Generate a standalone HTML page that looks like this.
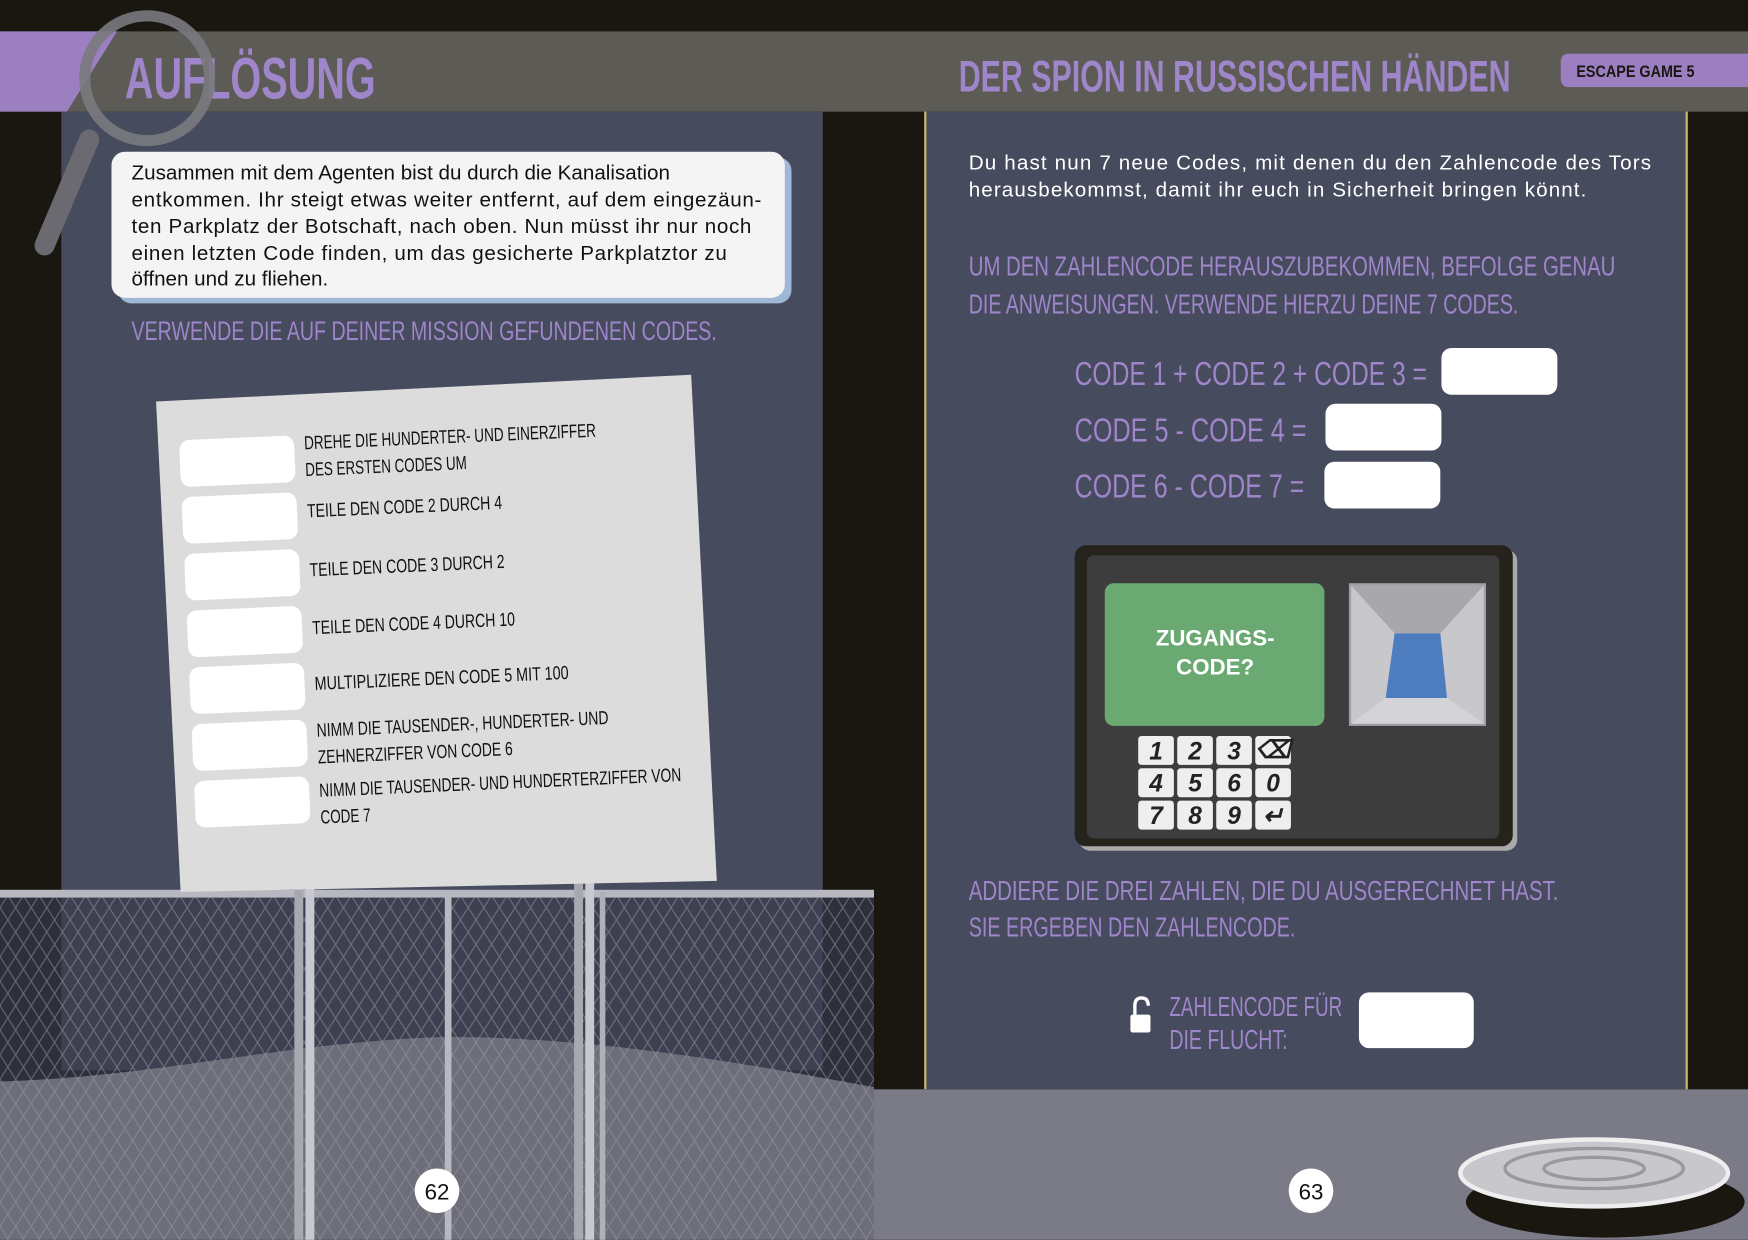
<!DOCTYPE html>
<html><head><meta charset="utf-8"><style>
html,body{margin:0;padding:0;background:#1a1710;}
svg{display:block}
.h{font-family:"Liberation Sans Narrow","Liberation Sans",sans-serif;font-weight:bold;fill:#9f85c9}
.p{font-family:"Liberation Sans Narrow","Liberation Sans",sans-serif;fill:#9f85c9}
.b{font-family:"Liberation Sans",sans-serif;font-size:18.5px;fill:#111}
.w{font-family:"Liberation Sans",sans-serif;font-size:18.5px;fill:#fff}
.n{font-family:"Liberation Sans Narrow","Liberation Sans",sans-serif;font-size:17px;fill:#111}
.k{font-family:"Liberation Sans",sans-serif;font-weight:bold;font-style:italic;font-size:22px;fill:#222;text-anchor:middle}
</style></head><body>
<svg width="1748" height="1240" viewBox="0 0 1568 1112" xmlns="http://www.w3.org/2000/svg">
<rect width="1568" height="1112" fill="#1a1710"/>
<rect x="0" y="28" width="1568" height="72" fill="#5d5b55"/>
<polygon points="0,28 105,28 60,100 0,100" fill="#9b7fc0"/>
<text class="h" x="112" y="88" font-size="52" textLength="225" lengthAdjust="spacingAndGlyphs">AUFLÖSUNG</text>
<text class="h" x="860" y="82" font-size="40" textLength="495" lengthAdjust="spacingAndGlyphs">DER SPION IN RUSSISCHEN HÄNDEN</text>
<path d="M1408,48 H1568 V78 H1408 Q1400,78 1400,70 V56 Q1400,48 1408,48Z" fill="#9b7fc0"/>
<text x="1414" y="69" font-family="Liberation Sans Narrow,Liberation Sans,sans-serif" font-weight="bold" font-size="15" fill="#1a1710" textLength="106" lengthAdjust="spacingAndGlyphs">ESCAPE GAME 5</text>
<rect x="55" y="100" width="683" height="700" fill="#474b5e"/>
<rect x="830" y="100" width="683" height="877" fill="#474b5e"/>
<rect x="829" y="100" width="2" height="877" fill="#c8b870"/>
<rect x="1512" y="100" width="2" height="877" fill="#c8b870"/>
<rect x="784" y="977" width="784" height="135" fill="#7b7a87"/>
<rect x="0" y="800" width="784" height="312" fill="#2e2f3a"/>
<path d="M55,800 H738 V960 H55Z" fill="#3d4050"/>
<path d="M0,970 C150,965 250,935 400,930 C550,930 700,960 784,975 V1112 H0Z" fill="#6e6e7a"/>
<defs><pattern id="mesh" width="14" height="22" patternUnits="userSpaceOnUse">
<path d="M0,0 L14,22 M14,0 L0,22" stroke="#9a9aa6" stroke-width="1" opacity="0.55"/></pattern></defs>
<rect x="0" y="805" width="784" height="307" fill="url(#mesh)"/>
<rect x="0" y="798" width="784" height="7" fill="#b8b8c0"/>
<rect x="264" y="790" width="8" height="322" fill="#a8a8b0"/>
<rect x="274" y="770" width="8" height="342" fill="#c8c8d0"/>
<rect x="399" y="800" width="6" height="312" fill="#b8b8c0"/>
<rect x="515" y="790" width="8" height="322" fill="#a8a8b0"/>
<rect x="525" y="770" width="8" height="342" fill="#c8c8d0"/>
<rect x="538" y="800" width="5" height="312" fill="#b0b0b8"/>
<ellipse cx="278" cy="772" rx="4" ry="8" fill="#ddd"/>
<ellipse cx="529" cy="772" rx="4" ry="8" fill="#ddd"/>
<line x1="80" y1="125" x2="40" y2="220" stroke="#6a6a70" stroke-width="18" stroke-linecap="round"/>
<circle cx="132" cy="70" r="56" fill="none" stroke="#7a7a80" stroke-width="10" opacity="0.9"/>
<rect x="106" y="141" width="604" height="131" rx="12" fill="#9fb8d8"/>
<rect x="100" y="136" width="604" height="131" rx="12" fill="#f4f4f4"/>
<text class="b" x="118" y="161">Zusammen mit dem Agenten bist du durch die Kanalisation</text>
<text class="b" x="118" y="185" textLength="565" lengthAdjust="spacing">entkommen. Ihr steigt etwas weiter entfernt, auf dem eingezäun-</text>
<text class="b" x="118" y="209" textLength="556" lengthAdjust="spacing">ten Parkplatz der Botschaft, nach oben. Nun müsst ihr nur noch</text>
<text class="b" x="118" y="233" textLength="534" lengthAdjust="spacing">einen letzten Code finden, um das gesicherte Parkplatztor zu</text>
<text class="b" x="118" y="256">öffnen und zu fliehen.</text>
<text class="p" x="118" y="305" font-size="24" textLength="525" lengthAdjust="spacingAndGlyphs">VERWENDE DIE AUF DEINER MISSION GEFUNDENEN CODES.</text>
<polygon points="140,360 620,336 643,790 162,800" fill="#dcdcdc"/>
<g transform="rotate(-2.5 390 560)">
<rect x="168" y="385" width="103" height="42" rx="9" fill="#fff"/>
<rect x="168" y="436" width="103" height="42" rx="9" fill="#fff"/>
<rect x="168" y="487" width="103" height="42" rx="9" fill="#fff"/>
<rect x="168" y="538" width="103" height="42" rx="9" fill="#fff"/>
<rect x="168" y="589" width="103" height="42" rx="9" fill="#fff"/>
<rect x="168" y="640" width="103" height="42" rx="9" fill="#fff"/>
<rect x="168" y="691" width="103" height="42" rx="9" fill="#fff"/>
<text class="n" x="280" y="398" textLength="262" lengthAdjust="spacingAndGlyphs">DREHE DIE HUNDERTER- UND EINERZIFFER</text>
<text class="n" x="280" y="422" textLength="145" lengthAdjust="spacingAndGlyphs">DES ERSTEN CODES UM</text>
<text class="n" x="280" y="459" textLength="175" lengthAdjust="spacingAndGlyphs">TEILE DEN CODE 2 DURCH 4</text>
<text class="n" x="280" y="512" textLength="175" lengthAdjust="spacingAndGlyphs">TEILE DEN CODE 3 DURCH 2</text>
<text class="n" x="280" y="564" textLength="182" lengthAdjust="spacingAndGlyphs">TEILE DEN CODE 4 DURCH 10</text>
<text class="n" x="280" y="614" textLength="228" lengthAdjust="spacingAndGlyphs">MULTIPLIZIERE DEN CODE 5 MIT 100</text>
<text class="n" x="280" y="656" textLength="262" lengthAdjust="spacingAndGlyphs">NIMM DIE TAUSENDER-, HUNDERTER- UND</text>
<text class="n" x="280" y="680" textLength="175" lengthAdjust="spacingAndGlyphs">ZEHNERZIFFER VON CODE 6</text>
<text class="n" x="280" y="710" textLength="325" lengthAdjust="spacingAndGlyphs">NIMM DIE TAUSENDER- UND HUNDERTERZIFFER VON</text>
<text class="n" x="280" y="734" textLength="45" lengthAdjust="spacingAndGlyphs">CODE 7</text>
</g>
<text class="w" x="869" y="152" textLength="612" lengthAdjust="spacing">Du hast nun 7 neue Codes, mit denen du den Zahlencode des Tors</text>
<text class="w" x="869" y="176" textLength="554" lengthAdjust="spacing">herausbekommst, damit ihr euch in Sicherheit bringen könnt.</text>
<text class="p" x="869" y="247" font-size="25" textLength="580" lengthAdjust="spacingAndGlyphs">UM DEN ZAHLENCODE HERAUSZUBEKOMMEN, BEFOLGE GENAU</text>
<text class="p" x="869" y="281" font-size="25" textLength="493" lengthAdjust="spacingAndGlyphs">DIE ANWEISUNGEN. VERWENDE HIERZU DEINE 7 CODES.</text>
<text class="p" x="964" y="345" font-size="30" textLength="316" lengthAdjust="spacingAndGlyphs">CODE 1 + CODE 2 + CODE 3 =</text>
<rect x="1293" y="312" width="104" height="42" rx="9" fill="#fff"/>
<text class="p" x="964" y="396" font-size="30" textLength="208" lengthAdjust="spacingAndGlyphs">CODE 5 - CODE 4 =</text>
<rect x="1189" y="362" width="104" height="42" rx="9" fill="#fff"/>
<text class="p" x="964" y="446" font-size="30" textLength="206" lengthAdjust="spacingAndGlyphs">CODE 6 - CODE 7 =</text>
<rect x="1188" y="414" width="104" height="42" rx="9" fill="#fff"/>
<rect x="968" y="493" width="393" height="270" rx="10" fill="#aaa"/>
<rect x="964" y="489" width="393" height="270" rx="10" fill="#26221c"/>
<rect x="975" y="498" width="370" height="254" rx="6" fill="#3d3d3e"/>
<rect x="991" y="523" width="197" height="128" rx="8" fill="#6aaa72"/>
<text x="1090" y="579" text-anchor="middle" font-family="Liberation Sans,sans-serif" font-weight="bold" font-size="20" fill="#fff">ZUGANGS-</text>
<text x="1090" y="605" text-anchor="middle" font-family="Liberation Sans,sans-serif" font-weight="bold" font-size="20" fill="#fff">CODE?</text>
<rect x="1210" y="523" width="123" height="128" fill="#a0a0a4"/>
<rect x="1212" y="525" width="119" height="124" fill="#c8c8cc"/>
<polygon points="1212,525 1331,525 1292,568 1251,568" fill="#a8a8ac"/>
<polygon points="1212,649 1331,649 1298,626 1243,626" fill="#d4d4d8"/>
<polygon points="1251,568 1292,568 1298,626 1243,626" fill="#4d7dbf"/>
<g>
<rect x="1021" y="660" width="32" height="26" rx="3" fill="#eee"/><text class="k" x="1037" y="681">1</text>
<rect x="1056" y="660" width="32" height="26" rx="3" fill="#eee"/><text class="k" x="1072" y="681">2</text>
<rect x="1091" y="660" width="32" height="26" rx="3" fill="#eee"/><text class="k" x="1107" y="681">3</text>
<rect x="1126" y="660" width="32" height="26" rx="3" fill="#eee"/><text class="k" x="1142" y="680" font-size="15">⌫</text>
<rect x="1021" y="689" width="32" height="26" rx="3" fill="#eee"/><text class="k" x="1037" y="710">4</text>
<rect x="1056" y="689" width="32" height="26" rx="3" fill="#eee"/><text class="k" x="1072" y="710">5</text>
<rect x="1091" y="689" width="32" height="26" rx="3" fill="#eee"/><text class="k" x="1107" y="710">6</text>
<rect x="1126" y="689" width="32" height="26" rx="3" fill="#eee"/><text class="k" x="1142" y="710">0</text>
<rect x="1021" y="718" width="32" height="26" rx="3" fill="#eee"/><text class="k" x="1037" y="739">7</text>
<rect x="1056" y="718" width="32" height="26" rx="3" fill="#eee"/><text class="k" x="1072" y="739">8</text>
<rect x="1091" y="718" width="32" height="26" rx="3" fill="#eee"/><text class="k" x="1107" y="739">9</text>
<rect x="1126" y="718" width="32" height="26" rx="3" fill="#eee"/><text class="k" x="1142" y="739">↵</text>
</g>
<text class="p" x="869" y="807" font-size="25" textLength="529" lengthAdjust="spacingAndGlyphs">ADDIERE DIE DREI ZAHLEN, DIE DU AUSGERECHNET HAST.</text>
<text class="p" x="869" y="840" font-size="25" textLength="293" lengthAdjust="spacingAndGlyphs">SIE ERGEBEN DEN ZAHLENCODE.</text>
<g fill="#fff"><rect x="1014" y="910" width="18" height="16" rx="2"/><path d="M1018,910 V902 Q1018,895 1024,895 Q1030,895 1030,902" fill="none" stroke="#fff" stroke-width="3"/></g>
<text class="p" x="1049" y="911" font-size="25" textLength="155" lengthAdjust="spacingAndGlyphs">ZAHLENCODE FÜR</text>
<text class="p" x="1049" y="941" font-size="25" textLength="106" lengthAdjust="spacingAndGlyphs">DIE FLUCHT:</text>
<rect x="1219" y="890" width="103" height="50" rx="9" fill="#fff"/>
<circle cx="392" cy="1068" r="20" fill="#fff"/>
<text x="392" y="1076" text-anchor="middle" font-family="Liberation Sans Narrow,sans-serif" font-size="20" fill="#111">62</text>
<circle cx="1176" cy="1068" r="20" fill="#fff"/>
<text x="1176" y="1076" text-anchor="middle" font-family="Liberation Sans Narrow,sans-serif" font-size="20" fill="#111">63</text>
<ellipse cx="1440" cy="1078" rx="125" ry="32" fill="#1a1710"/>
<ellipse cx="1430" cy="1052" rx="120" ry="30" fill="#c8c8cc" stroke="#eee" stroke-width="4"/>
<ellipse cx="1430" cy="1048" rx="80" ry="18" fill="none" stroke="#999" stroke-width="3"/>
<ellipse cx="1430" cy="1048" rx="45" ry="10" fill="none" stroke="#999" stroke-width="3"/>
</svg>
</body></html>
